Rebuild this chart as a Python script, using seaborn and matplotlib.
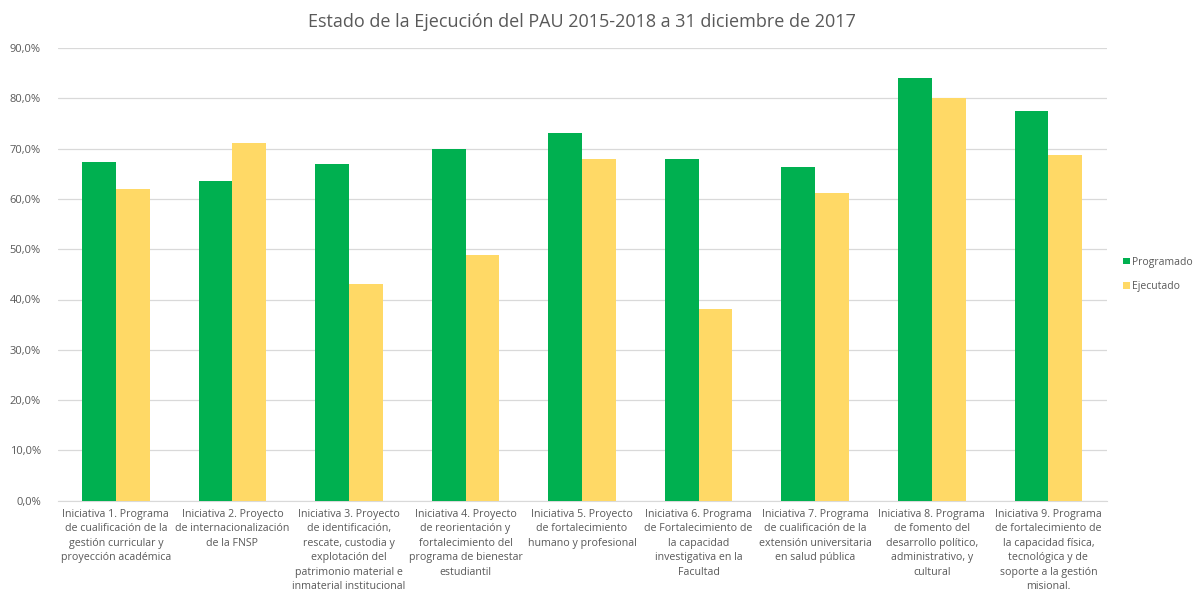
import pandas as pd
import matplotlib.pyplot as plt
import seaborn as sns
from matplotlib.ticker import FuncFormatter

categorias = [
    "Iniciativa 1. Programa\nde cualificación de la\ngestión curricular y\nproyección académica",
    "Iniciativa 2. Proyecto\nde internacionalización\nde la FNSP",
    "Iniciativa 3. Proyecto\nde identificación,\nrescate, custodia y\nexplotación del\npatrimonio material e\ninmaterial institucional",
    "Iniciativa 4. Proyecto\nde reorientación y\nfortalecimiento del\nprograma de bienestar\nestudiantil",
    "Iniciativa 5. Proyecto\nde fortalecimiento\nhumano y profesional",
    "Iniciativa 6. Programa\nde Fortalecimiento de\nla capacidad\ninvestigativa en la\nFacultad",
    "Iniciativa 7. Programa\nde cualificación de la\nextensión universitaria\nen salud pública",
    "Iniciativa 8. Programa\nde fomento del\ndesarrollo político,\nadministrativo, y\ncultural",
    "Iniciativa 9. Programa\nde fortalecimiento de\nla capacidad física,\ntecnológica y de\nsoporte a la gestión\nmisional.",
]
programado = [67.4, 63.6, 66.9, 69.9, 73.0, 67.9, 66.3, 84.0, 77.4]
ejecutado = [62.0, 71.2, 43.0, 48.9, 67.9, 38.2, 61.2, 80.0, 68.7]

df = pd.DataFrame({
    "Iniciativa": categorias * 2,
    "Serie": ["Programado"] * 9 + ["Ejecutado"] * 9,
    "Valor": programado + ejecutado,
})

sns.set_style("white")
plt.rcParams["font.family"] = ["Open Sans", "DejaVu Sans"]

fig = plt.figure(figsize=(11.99, 5.99), dpi=100)
ax = fig.add_axes([0.048, 0.164, 0.875, 0.756])

sns.barplot(
    data=df, x="Iniciativa", y="Valor", hue="Serie",
    palette={"Programado": "#00B050", "Ejecutado": "#FFD966"},
    width=0.58, gap=0, ax=ax, saturation=1, zorder=3, linewidth=0,
)

ax.set_ylim(0, 90)
ax.set_yticks(range(0, 91, 10))
ax.yaxis.set_major_formatter(FuncFormatter(lambda v, p: f"{v:.1f}%".replace(".", ",")))
ax.grid(axis="y", color="#D9D9D9", linewidth=0.9, zorder=0)
for s in ["top", "right", "left"]:
    ax.spines[s].set_visible(False)
ax.spines["bottom"].set_color("#D9D9D9")
ax.set_xlabel("")
ax.set_ylabel("")
ax.tick_params(axis="both", length=0, colors="#595959", labelsize=7.7)
ax.tick_params(axis="x", pad=6)
ax.tick_params(axis="y", pad=12, labelsize=8)
for lbl in ax.get_xticklabels():
    lbl.set_linespacing(1.42)
    lbl.set_verticalalignment("top")

ax.set_title("Estado de la Ejecución del PAU 2015-2018 a 31 diciembre de 2017",
             fontsize=13, color="#595959", pad=15)

leg = ax.legend(loc="center left", bbox_to_anchor=(1.012, 0.5), frameon=False,
                fontsize=7.5, handlelength=0.6, handleheight=0.6, handletextpad=0.25,
                labelspacing=1.3, borderaxespad=0)
for t in leg.get_texts():
    t.set_color("#595959")

fig.savefig("out.png", dpi=100)
